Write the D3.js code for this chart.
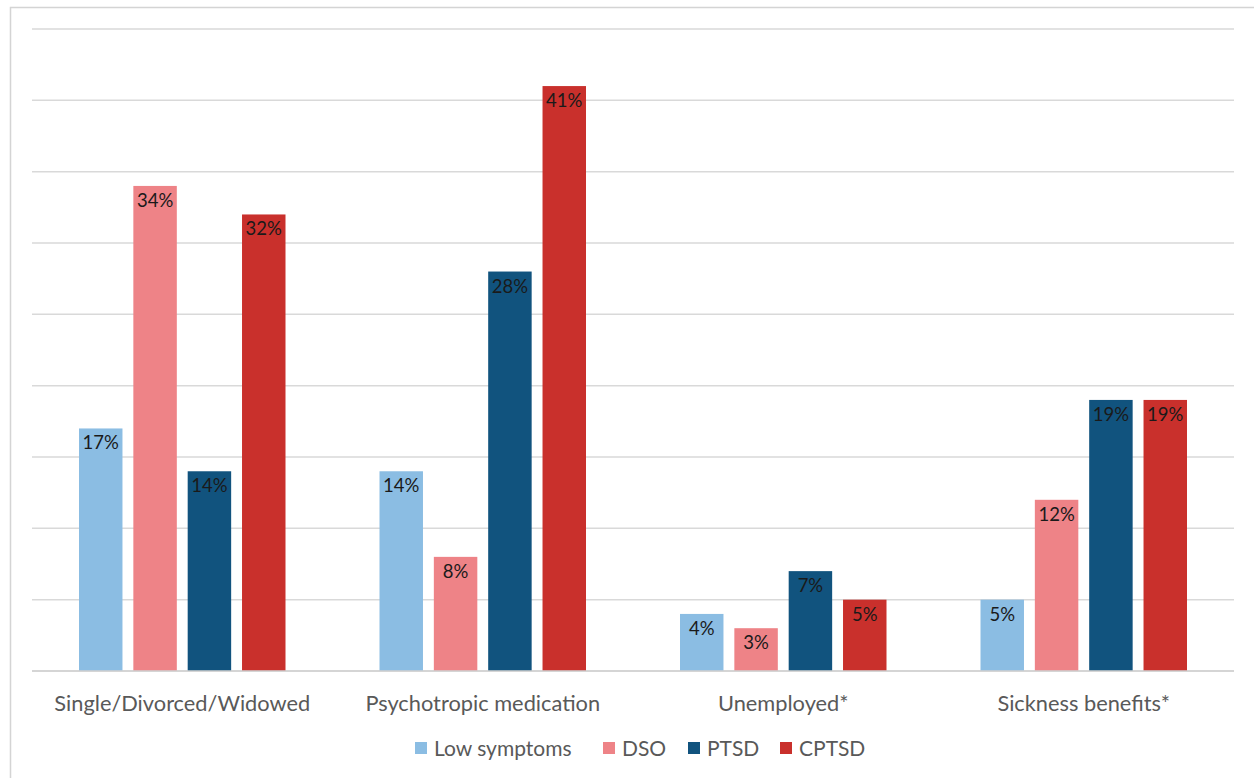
<!DOCTYPE html>
<html>
<head>
<meta charset="utf-8">
<script src="https://cdn.jsdelivr.net/npm/d3@7"></script>
<style>
body { margin: 0; background: #fff; }
text { font-family: Lato, "Open Sans", sans-serif; }
</style>
</head>
<body>
<svg class="chart" width="1254" height="778"></svg>
<script>
let categories = ["Single/Divorced/Widowed", "Psychotropic medication", "Unemployed*", "Sickness benefits*"];
let seriesNames = ["Low symptoms", "DSO", "PTSD", "CPTSD"];
let seriesColors = ["#8bbde3", "#ee8387", "#11537e", "#c9302c"];
let lowSymptoms = [17, 14, 4, 5];
let dso = [34, 8, 3, 12];
let ptsd = [14, 28, 7, 19];
let cptsd = [32, 41, 5, 19];
let yTicks = [0, 5, 10, 15, 20, 25, 30, 35, 40, 45];

let series = [lowSymptoms, dso, ptsd, cptsd];

let svg = d3.select(".chart");

// outer frame
svg.append("rect")
    .attr("x", 10.5).attr("y", 7.5)
    .attr("width", 1260).attr("height", 800)
    .attr("fill", "none")
    .attr("stroke", "#d4d4d4")
    .attr("stroke-width", 1.5);

let plotLeft = 32, plotRight = 1234, plotTop = 29, plotBottom = 671;

let y = d3.scaleLinear().domain([0, 45]).range([plotBottom, plotTop]);
let x0 = d3.scaleBand().domain(categories).range([plotLeft, plotRight]);
let x1 = d3.scaleBand().domain(seriesNames)
    .range([47, x0.bandwidth() - 47])
    .paddingInner(0.2);

// gridlines
svg.append("g").attr("class", "grid")
  .selectAll("line")
  .data(yTicks)
  .enter().append("line")
    .attr("x1", plotLeft).attr("x2", plotRight)
    .attr("y1", d => y(d)).attr("y2", d => y(d))
    .attr("stroke", "#d9d9d9")
    .attr("stroke-width", 1.5);

// bars
for (let s = 0; s < series.length; s++) {
    let g = svg.append("g").attr("class", "series" + s);
    g.selectAll("rect")
      .data(series[s])
      .enter().append("rect")
        .attr("x", (d, i) => x0(categories[i]) + x1(seriesNames[s]))
        .attr("y", d => y(d))
        .attr("width", x1.bandwidth())
        .attr("height", d => y(0) - y(d))
        .attr("fill", seriesColors[s]);
    g.selectAll("text")
      .data(series[s])
      .enter().append("text")
        .attr("x", (d, i) => x0(categories[i]) + x1(seriesNames[s]) + x1.bandwidth() / 2)
        .attr("y", d => y(d) + 21)
        .attr("text-anchor", "middle")
        .attr("font-size", 18.5)
        .attr("fill", "#1a1a1a")
        .text(d => d + "%");
}

// baseline
svg.append("line")
    .attr("x1", plotLeft).attr("x2", plotRight)
    .attr("y1", y(0)).attr("y2", y(0))
    .attr("stroke", "#d0d0d0")
    .attr("stroke-width", 1.5);

// category labels
svg.append("g")
  .selectAll("text")
  .data(categories)
  .enter().append("text")
    .attr("x", d => x0(d) + x0.bandwidth() / 2)
    .attr("y", 711)
    .attr("text-anchor", "middle")
    .attr("font-size", 21.8)
    .attr("fill", "#595959")
    .text(d => d);

// legend
let legendX = [415, 603, 688, 780];
let legend = svg.append("g").attr("class", "legend");
for (let i = 0; i < seriesNames.length; i++) {
    legend.append("rect")
        .attr("x", legendX[i]).attr("y", 742)
        .attr("width", 12).attr("height", 12)
        .attr("fill", seriesColors[i]);
    legend.append("text")
        .attr("x", legendX[i] + 19).attr("y", 756)
        .attr("font-size", 21)
        .attr("fill", "#595959")
        .text(seriesNames[i]);
}
</script>
</body>
</html>
